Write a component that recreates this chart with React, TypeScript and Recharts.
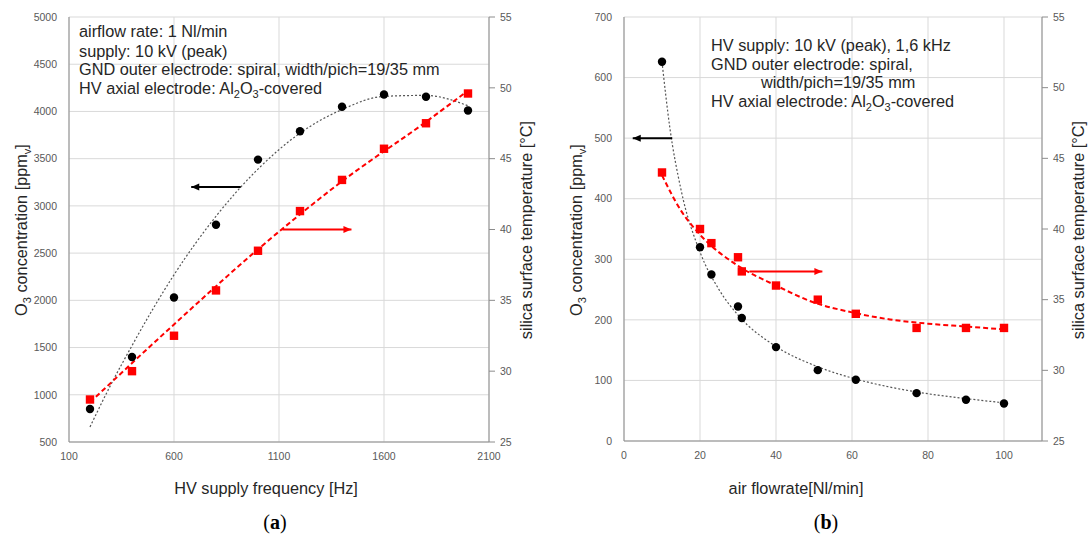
import { CartesianGrid, ComposedChart, Line, Scatter, XAxis, YAxis } from "recharts"

// (a) ozone / temperature vs HV supply frequency
const freqHz = [200, 400, 600, 800, 1000, 1200, 1400, 1600, 1800, 2000]
const ozoneA = [850, 1400, 2030, 2800, 3490, 3790, 4050, 4180, 4155, 4010]
const tempA = [28.0, 30.0, 32.5, 35.7, 38.5, 41.3, 43.5, 45.7, 47.5, 49.6]

// trend lines
const trendFreqA = [200, 300, 400, 500, 600, 800, 1000, 1200, 1400, 1600, 1800, 2000]
const trendOzoneA = [660, 1110, 1520, 1910, 2270, 2890, 3390, 3770, 4020, 4160, 4170, 4060]
const trendTempFreqA = [200, 600, 1000, 1400, 1800, 2000]
const trendTempA = [27.8, 33.3, 38.6, 43.4, 47.6, 49.8]

// (b) ozone / temperature vs air flowrate
const flow = [10, 20, 23, 30, 31, 40, 51, 61, 77, 90, 100]
const ozoneB = [626, 320, 275, 222, 203, 155, 117, 101, 79, 68, 62]
const tempB = [44.0, 40.0, 39.0, 38.0, 37.0, 36.0, 35.0, 34.0, 33.0, 33.0, 33.0]

const trendFlowB = [10, 12, 15, 20, 25, 30, 40, 50, 60, 70, 80, 90, 100]
const trendOzoneB = [626, 520, 415, 312, 250, 208, 156, 125, 104, 89, 78, 70, 63]
const trendTempFlowB = [10, 15, 20, 30, 40, 50, 60, 70, 80, 90, 100]
const trendTempB = [43.8, 41.3, 39.6, 37.4, 36.0, 34.8, 34.1, 33.6, 33.3, 33.1, 32.9]

// arrows (tail -> tip, in data units)
const arrowOzoneAx = [918, 682]
const arrowOzoneAy = 3200
const arrowTempAx = [1116, 1445]
const arrowTempAy = 40
const arrowOzoneBx = [12.7, 2.3]
const arrowOzoneBy = 500
const arrowTempBx = [33, 52.2]
const arrowTempBy = 37

// ticks
const ticksFreq = [100, 600, 1100, 1600, 2100]
const ticksOzoneA = [500, 1000, 1500, 2000, 2500, 3000, 3500, 4000, 4500, 5000]
const ticksTemp = [25, 30, 35, 40, 45, 50, 55]
const ticksFlow = [0, 20, 40, 60, 80, 100]
const ticksOzoneB = [0, 100, 200, 300, 400, 500, 600, 700]

const AXIS = "#8c8c8c"
const GRID = "#d9d9d9"
const TICK = "#595959"
const TEXT = "#262626"
const RED = "#ff0000"
const FONT = "'Liberation Sans', Arial, sans-serif"

const pairs = (xs: number[], ys: number[]) => xs.map((x, i) => ({ x, y: ys[i] }))
const arrow = (xs: number[], y: number) => xs.map((x) => ({ x, y, dir: Math.sign(xs[1] - xs[0]) }))

const BlackDot = (p: any) => <circle cx={p.cx} cy={p.cy} r={4.2} fill="#000" />
const RedSquare = (p: any) => <rect x={p.cx - 4.2} y={p.cy - 4.2} width={8.4} height={8.4} fill={RED} />

const head = (color: string) => (p: any) => {
  if (p.index !== 1) return <g key={`h-${p.index}`} />
  const d = p.payload.dir
  const { cx, cy } = p
  return (
    <path
      key={`h-${p.index}`}
      d={`M${cx},${cy} L${cx - d * 8},${cy - 3.5} L${cx - d * 8},${cy + 3.5} Z`}
      fill={color}
      stroke="none"
    />
  )
}

const tickStyle = { fill: TICK, fontSize: 10.5, fontFamily: FONT }

function PanelA() {
  return (
    <ComposedChart width={540} height={534} margin={{ top: 17, right: 11, bottom: 62, left: 9 }}>
      <CartesianGrid stroke={GRID} yAxisId="left" />
      <XAxis
        type="number"
        dataKey="x"
        domain={[100, 2100]}
        ticks={ticksFreq}
        allowDataOverflow
        stroke={AXIS}
        tickLine={false}
        tickSize={0}
        tickMargin={11}
        tick={tickStyle}
        height={30}
      />
      <YAxis
        yAxisId="left"
        type="number"
        domain={[500, 5000]}
        ticks={ticksOzoneA}
        allowDataOverflow
        stroke={AXIS}
        tickLine={false}
        tickSize={0}
        tickMargin={12}
        tick={tickStyle}
        width={60}
      />
      <YAxis
        yAxisId="right"
        orientation="right"
        type="number"
        domain={[25, 55]}
        ticks={ticksTemp}
        allowDataOverflow
        stroke={AXIS}
        tickSize={6}
        tickMargin={5}
        tick={tickStyle}
        width={40}
      />
      <Line
        yAxisId="left"
        data={pairs(trendFreqA, trendOzoneA)}
        dataKey="y"
        type="monotone"
        stroke="#555"
        strokeWidth={1.2}
        strokeDasharray="2 2"
        dot={false}
        isAnimationActive={false}
      />
      <Line
        yAxisId="right"
        data={pairs(trendTempFreqA, trendTempA)}
        dataKey="y"
        type="monotone"
        stroke={RED}
        strokeWidth={2}
        strokeDasharray="5 3"
        dot={false}
        isAnimationActive={false}
      />
      <Scatter yAxisId="left" data={pairs(freqHz, ozoneA)} dataKey="y" shape={BlackDot} isAnimationActive={false} />
      <Scatter yAxisId="right" data={pairs(freqHz, tempA)} dataKey="y" shape={RedSquare} isAnimationActive={false} />
      <Line
        yAxisId="left"
        data={arrow(arrowOzoneAx, arrowOzoneAy)}
        dataKey="y"
        type="linear"
        stroke="#000"
        strokeWidth={2}
        dot={head("#000")}
        activeDot={false}
        isAnimationActive={false}
      />
      <Line
        yAxisId="right"
        data={arrow(arrowTempAx, arrowTempAy)}
        dataKey="y"
        type="linear"
        stroke={RED}
        strokeWidth={2}
        dot={head(RED)}
        activeDot={false}
        isAnimationActive={false}
      />
    </ComposedChart>
  )
}

function PanelB() {
  return (
    <ComposedChart width={542} height={534} margin={{ top: 17, right: 10, bottom: 63, left: 14 }}>
      <CartesianGrid stroke={GRID} yAxisId="left" />
      <XAxis
        type="number"
        dataKey="x"
        domain={[0, 110]}
        ticks={ticksFlow}
        allowDataOverflow
        stroke={AXIS}
        tickLine={false}
        tickSize={0}
        tickMargin={11}
        tick={tickStyle}
        height={30}
      />
      <YAxis
        yAxisId="left"
        type="number"
        domain={[0, 700]}
        ticks={ticksOzoneB}
        allowDataOverflow
        stroke={AXIS}
        tickLine={false}
        tickSize={0}
        tickMargin={12}
        tick={tickStyle}
        width={60}
      />
      <YAxis
        yAxisId="right"
        orientation="right"
        type="number"
        domain={[25, 55]}
        ticks={ticksTemp}
        allowDataOverflow
        stroke={AXIS}
        tickSize={6}
        tickMargin={5}
        tick={tickStyle}
        width={40}
      />
      <Line
        yAxisId="left"
        data={pairs(trendFlowB, trendOzoneB)}
        dataKey="y"
        type="monotone"
        stroke="#555"
        strokeWidth={1.2}
        strokeDasharray="2 2"
        dot={false}
        isAnimationActive={false}
      />
      <Line
        yAxisId="right"
        data={pairs(trendTempFlowB, trendTempB)}
        dataKey="y"
        type="monotone"
        stroke={RED}
        strokeWidth={2}
        strokeDasharray="5 3"
        dot={false}
        isAnimationActive={false}
      />
      <Scatter yAxisId="left" data={pairs(flow, ozoneB)} dataKey="y" shape={BlackDot} isAnimationActive={false} />
      <Scatter yAxisId="right" data={pairs(flow, tempB)} dataKey="y" shape={RedSquare} isAnimationActive={false} />
      <Line
        yAxisId="left"
        data={arrow(arrowOzoneBx, arrowOzoneBy)}
        dataKey="y"
        type="linear"
        stroke="#000"
        strokeWidth={2}
        dot={head("#000")}
        activeDot={false}
        isAnimationActive={false}
      />
      <Line
        yAxisId="right"
        data={arrow(arrowTempBx, arrowTempBy)}
        dataKey="y"
        type="linear"
        stroke={RED}
        strokeWidth={2}
        dot={head(RED)}
        activeDot={false}
        isAnimationActive={false}
      />
    </ComposedChart>
  )
}

// subscript helpers: shift down for the index, back up for the text after it
const sub = (s: string) => <tspan dy={4} fontSize={11}>{s}</tspan>
const up = (s: string) => <tspan dy={-4}>{s}</tspan>

function Texts() {
  return (
    <svg
      width={1092}
      height={534}
      style={{ position: "absolute", left: 0, top: 0, pointerEvents: "none" }}
      fontFamily={FONT}
      fontSize={16.3}
      fill={TEXT}
    >
      {/* panel a notes */}
      <text x={79} y={37}>airflow rate: 1 Nl/min</text>
      <text x={79} y={56.5}>supply: 10 kV (peak)</text>
      <text x={79} y={75}>GND outer electrode: spiral, width/pich=19/35 mm</text>
      <text x={79} y={94}>
        HV axial electrode: Al{sub("2")}{up("O")}{sub("3")}{up("-covered")}
      </text>

      {/* panel b notes */}
      <text x={711} y={50.5}>HV supply: 10 kV (peak), 1,6 kHz</text>
      <text x={711} y={70}>GND outer electrode: spiral,</text>
      <text x={761} y={88}>width/pich=19/35 mm</text>
      <text x={711} y={107}>
        HV axial electrode: Al{sub("2")}{up("O")}{sub("3")}{up("-covered")}
      </text>

      {/* axis titles */}
      <text transform="translate(27,230) rotate(-90)" textAnchor="middle">
        O{sub("3")}{up(" concentration [ppm")}{sub("v")}{up("]")}
      </text>
      <text transform="translate(532,230) rotate(-90)" textAnchor="middle">
        silica surface temperature [°C]
      </text>
      <text transform="translate(582,230) rotate(-90)" textAnchor="middle">
        O{sub("3")}{up(" concentration [ppm")}{sub("v")}{up("]")}
      </text>
      <text transform="translate(1084,230) rotate(-90)" textAnchor="middle">
        silica surface temperature [°C]
      </text>
      <text x={266} y={494} textAnchor="middle">HV supply frequency [Hz]</text>
      <text x={796} y={494} textAnchor="middle">air flowrate[Nl/min]</text>

      {/* captions */}
      <text x={275} y={529} textAnchor="middle" fontFamily="'Liberation Serif', serif" fontSize={20} fill="#000">
        (<tspan fontWeight="bold">a</tspan>)
      </text>
      <text x={826} y={529} textAnchor="middle" fontFamily="'Liberation Serif', serif" fontSize={20} fill="#000">
        (<tspan fontWeight="bold">b</tspan>)
      </text>
    </svg>
  )
}

export default function App() {
  return (
    <div style={{ position: "relative", width: 1092, height: 534, background: "#fff" }}>
      <style>{"body{margin:0}"}</style>
      <div style={{ position: "absolute", left: 0, top: 0 }}>
        <PanelA />
      </div>
      <div style={{ position: "absolute", left: 550, top: 0 }}>
        <PanelB />
      </div>
      <Texts />
    </div>
  )
}
